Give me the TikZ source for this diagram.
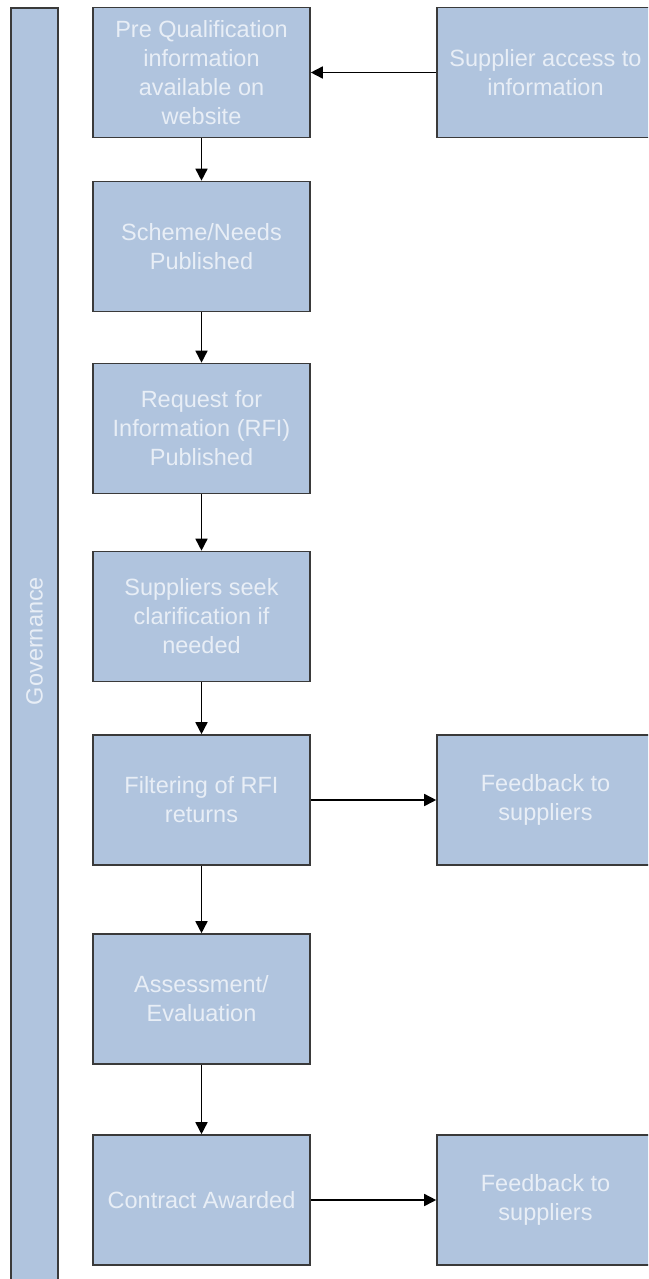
\documentclass[tikz,border=0pt]{standalone}
\usepackage{fontspec}
\setmainfont{Liberation Sans}
\usetikzlibrary{arrows.meta}
\definecolor{boxfill}{HTML}{B0C4DE}
\definecolor{boxtext}{HTML}{E8EEF6}
\definecolor{boxline}{HTML}{3A3A3A}
\tikzset{
  procbox/.style={draw=boxline, line width=1.6pt, fill=boxfill, text=boxtext,
    minimum width=217pt, minimum height=130pt, align=center, inner sep=2pt,
    font=\fontsize{23.5}{29}\selectfont},
  flow/.style={draw=black, line width=1.6pt, -{Triangle[length=12pt,width=12pt]}}
}
\begin{document}
\begin{tikzpicture}[x=1pt,y=-1pt]
\useasboundingbox (0,0) rectangle (648,1279);
\begin{scope}
\clip (0,0) rectangle (648,1279);
\node[procbox, minimum width=1290pt, minimum height=47pt, rotate=90] (gov) at (34.5,653) {\hspace{24pt}Governance};
\node[procbox] (pq) at (201.5,72.5) {Pre Qualification\\information\\available on\\website};
\node[procbox] (sa) at (545.5,72.5) {Supplier access to\\information};
\node[procbox] (sn) at (201.5,246.5) {Scheme/Needs\\Published};
\node[procbox] (rfi) at (201.5,428.5) {Request for\\Information (RFI)\\Published};
\node[procbox] (sc) at (201.5,616.5) {Suppliers seek\\clarification if\\needed};
\node[procbox] (fr) at (201.5,800) {Filtering of RFI\\returns};
\node[procbox] (fb1) at (545.5,800) {Feedback to\\suppliers};
\node[procbox] (ae) at (201.5,999) {Assessment/\\Evaluation};
\node[procbox] (ca) at (201.5,1200) {Contract Awarded};
\node[procbox] (fb2) at (545.5,1200) {Feedback to\\suppliers};
\end{scope}
\draw[flow] (sa.west) -- (pq.east);
\draw[flow] (pq) -- (sn);
\draw[flow] (sn) -- (rfi);
\draw[flow] (rfi) -- (sc);
\draw[flow] (sc) -- (fr);
\draw[flow] (fr) -- (ae);
\draw[flow] (ae) -- (ca);
\draw[flow] (fr) -- (fb1);
\draw[flow] (ca) -- (fb2);
\end{tikzpicture}
\end{document}
